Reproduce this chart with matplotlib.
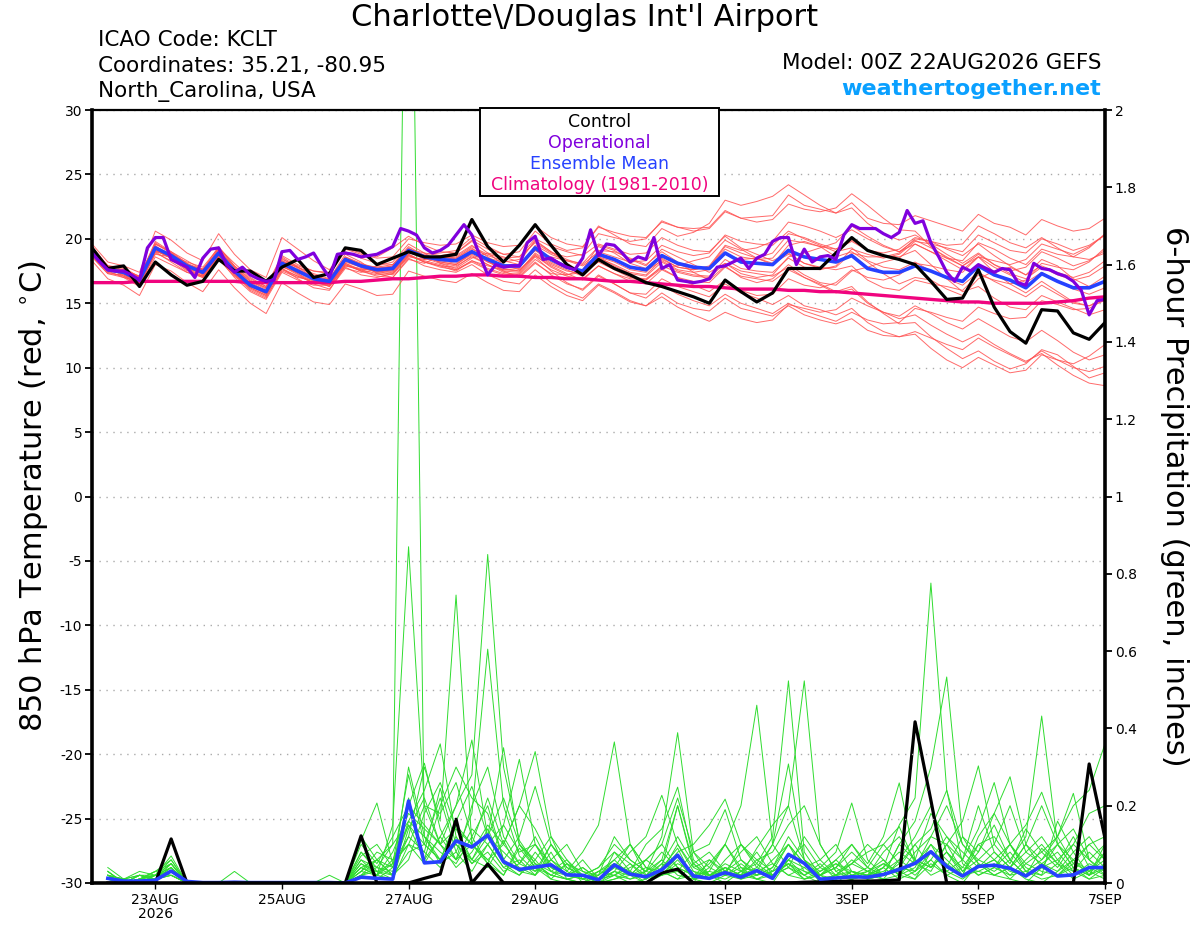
import numpy as np
import matplotlib
matplotlib.use('Agg')
import matplotlib.pyplot as plt
from matplotlib.patches import Rectangle
from matplotlib.ticker import FuncFormatter

plt.rcParams['font.family'] = ['DejaVu Sans']
plt.rcParams['axes.unicode_minus'] = False


def vals(s):
    return np.array(s.split(), dtype=float)


# ---- data ----
# GEFS output is 6-hourly from 00Z 22AUG, operational GFS 3-hourly
start = np.datetime64('2026-08-22T00')
times = start + np.arange(65) * np.timedelta64(6, 'h')
times_op = start + np.arange(129) * np.timedelta64(3, 'h')
times_pr = times[1:]

tick_dates = np.array(['2026-08-23', '2026-08-25', '2026-08-27', '2026-08-29',
                       '2026-09-01', '2026-09-03', '2026-09-05', '2026-09-07'],
                      dtype='datetime64[h]')
tick_labels = ['23AUG\n2026', '25AUG', '27AUG', '29AUG', '1SEP', '3SEP', '5SEP', '7SEP']
temp_ticks = [-30, -25, -20, -15, -10, -5, 0, 5, 10, 15, 20, 25, 30]
precip_ticks = [0, 0.2, 0.4, 0.6, 0.8, 1.0, 1.2, 1.4, 1.6, 1.8, 2.0]

control_t = vals("""
19.3 17.7 17.9 16.3 18.2 17.2 16.4 16.7 18.4 17.5
17.5 16.7 17.8 18.4 17.0 17.3 19.3 19.1 18.0 18.5
19.0 18.6 18.6 18.8 21.5 19.4 18.2 19.5 21.1 19.5
18.0 17.2 18.4 17.7 17.2 16.6 16.3 15.9 15.5 15.0
16.8 15.9 15.1 15.8 17.7 17.7 17.7 18.9 20.1 19.1
18.7 18.4 18.0 16.7 15.3 15.4 17.6 14.7 12.8 11.9
14.5 14.4 12.7 12.2 13.5""")

operational_t = vals("""
18.9 18.2 17.6 17.5 17.5 17.2 16.8 19.3 20.1 20.1
18.4 18.1 17.8 17.0 18.5 19.2 19.3 18.0 17.4 17.8
17.2 16.9 16.7 16.8 19.0 19.1 18.4 18.6 18.9 17.9
17.0 18.8 18.9 18.8 18.6 18.7 18.8 19.1 19.4 20.8
20.6 20.3 19.3 18.9 19.1 19.5 20.3 21.1 20.3 18.7
17.2 18.0 17.8 17.9 17.9 19.7 20.2 18.4 18.5 18.1
17.8 17.6 18.5 20.7 18.7 19.6 19.5 18.9 18.2 18.6
18.4 20.1 17.7 18.0 16.8 16.7 16.6 16.7 16.9 17.8
17.9 18.2 18.5 17.7 18.5 18.8 19.8 20.1 20.1 18.0
19.2 18.2 18.6 18.7 18.4 20.3 21.1 20.8 20.8 20.8
20.4 20.1 20.5 22.2 21.2 21.4 19.7 18.6 17.4 16.7
17.8 17.5 18.0 17.7 17.4 17.7 17.6 16.6 16.4 18.1
17.7 17.6 17.3 17.1 16.7 16.0 14.1 15.2 15.3""")

mean_t = vals("""
18.9 17.6 17.4 16.8 19.3 18.7 17.9 17.4 18.9 17.5
16.4 15.9 18.1 17.5 16.9 16.7 18.4 17.9 17.6 17.7
19.1 18.6 18.4 18.3 19.0 18.4 17.9 17.9 19.3 18.4
17.8 17.5 18.8 18.4 17.8 17.6 18.7 18.1 17.8 17.7
18.9 18.2 18.1 18.0 19.1 18.6 18.4 18.2 18.7 17.7
17.4 17.4 17.9 17.5 17.0 16.7 17.9 17.2 16.8 16.2
17.3 16.7 16.2 16.2 16.7""")

climatology_t = vals("""
16.6 16.6 16.6 16.7 16.7 16.7 16.7 16.7 16.7 16.7
16.6 16.6 16.6 16.6 16.6 16.6 16.7 16.7 16.8 16.9
16.9 17.0 17.1 17.1 17.2 17.2 17.1 17.1 17.0 17.0
16.9 16.9 16.8 16.7 16.7 16.6 16.5 16.4 16.3 16.3
16.2 16.1 16.1 16.1 16.0 16.0 15.9 15.9 15.8 15.7
15.6 15.5 15.4 15.3 15.2 15.1 15.1 15.0 15.0 15.0
15.0 15.1 15.2 15.4 15.5""")

members_t = [vals(s) for s in [
    """19.2 17.9 17.8 17.0 19.8 19.0 18.3 17.6 19.4 17.9 16.9 16.3 18.7 18.0 17.5 17.3 19.2 18.8 18.5 18.6
       20.0 19.7 19.5 19.6 20.3 19.7 19.4 19.5 21.0 20.1 19.6 19.4 20.9 20.5 20.2 20.1 21.3 20.9 20.8 20.9
       22.2 21.6 21.7 21.8 23.4 22.6 22.3 22.0 22.8 21.6 21.2 21.1 21.8 21.4 21.0 20.6 21.9 21.2 20.9 20.3
       21.5 21.0 20.6 20.8 21.6""",
    """18.3 16.9 16.4 15.6 18.0 17.5 16.6 15.9 17.6 16.2 15.0 14.2 16.6 15.8 15.1 14.9 16.5 16.1 15.6 15.7
       17.5 17.1 16.8 16.6 17.3 16.6 16.0 15.9 17.2 16.3 15.6 15.2 16.4 15.8 15.1 14.8 15.8 15.0 14.6 14.4
       15.4 14.6 14.3 14.0 14.8 14.1 13.7 13.4 13.8 12.9 12.5 12.4 12.8 12.3 11.8 11.4 12.3 11.6 11.0 10.4
       11.3 10.6 10.0 9.7 10.1""",
    """19.0 17.8 17.1 16.5 19.0 18.9 18.1 17.2 19.3 17.9 16.8 16.2 18.5 17.7 16.9 16.4 18.0 17.5 17.9 18.2
       19.6 18.9 18.1 17.7 18.5 18.9 18.6 18.2 19.9 19.0 18.1 17.4 18.2 17.6 17.0 16.9 17.8 17.9 18.3 18.6
       19.9 19.2 18.5 18.0 19.5 19.8 19.4 18.6 19.0 18.2 17.3 16.5 17.0 16.8 16.1 15.6 16.9 17.5 17.8 17.2
       18.4 17.9 16.9 16.3 17.1""",
    """18.7 17.4 17.6 17.1 19.5 18.4 17.5 17.7 18.6 17.2 16.0 15.4 17.6 17.1 16.6 16.9 18.8 18.2 17.3 17.0
       18.4 18.1 18.7 18.9 19.8 18.9 18.0 17.6 18.7 17.8 17.2 17.4 19.1 19.0 18.5 18.0 19.0 18.2 17.4 16.8
       17.9 17.0 16.6 16.9 18.0 17.2 16.6 16.4 17.5 17.8 18.2 18.5 19.6 19.0 18.3 17.6 18.6 17.4 16.5 15.8
       16.7 15.9 15.1 14.8 15.4""",
    """19.1 17.7 17.3 16.6 19.1 18.5 17.6 17.0 18.4 17.1 16.2 15.6 17.9 17.3 16.7 16.3 17.8 17.2 17.0 17.3
       18.7 18.3 18.0 17.6 18.2 17.6 17.2 17.3 18.6 17.5 16.6 16.0 17.1 16.5 15.8 15.7 16.9 16.3 15.9 15.5
       16.5 15.8 15.4 14.9 15.6 14.8 14.5 14.1 14.6 13.5 12.8 12.4 12.6 11.5 10.6 10.0 10.8 10.2 9.6 9.8
       11.0 10.6 10.3 10.9 11.8""",
    """19.6 18.2 17.9 17.4 20.6 19.9 18.9 18.3 20.4 18.8 17.6 17.0 20.1 19.2 18.3 17.6 19.3 18.9 18.6 19.3
       20.2 19.5 19.0 18.9 19.9 19.2 18.8 19.0 20.6 19.6 19.1 19.3 21.0 20.3 19.6 19.4 20.8 20.2 20.5 21.2
       23.0 22.6 22.9 23.3 24.2 23.4 22.6 22.0 22.4 21.2 20.4 19.9 20.3 19.6 18.8 18.1 18.9 18.0 17.3 16.9
       17.8 17.2 16.8 17.1 17.9""",
    """18.6 17.3 17.2 16.4 18.9 18.3 17.8 17.5 19.1 17.8 16.5 15.7 17.7 16.9 16.2 16.0 17.9 17.6 17.8 18.0
       19.4 18.7 18.3 18.5 19.3 18.3 17.5 17.0 18.1 17.3 17.2 17.6 19.5 19.1 18.4 17.9 19.2 18.6 18.0 17.4
       18.1 17.3 17.0 17.2 18.6 18.9 19.3 19.7 21.0 20.2 19.5 19.0 19.9 19.3 18.6 17.9 18.8 18.0 17.5 17.8
       19.0 18.5 17.9 18.3 19.1""",
    """19.0 17.5 17.0 16.7 19.4 18.8 18.0 17.3 18.7 17.4 16.6 16.0 18.3 17.8 17.2 16.8 18.2 17.8 17.4 17.5
       18.8 18.2 17.9 17.5 18.3 17.9 17.6 17.5 18.9 18.1 17.6 17.1 18.3 17.8 17.1 16.8 17.7 17.0 16.4 15.9
       16.8 16.0 15.6 15.7 16.9 16.4 16.2 16.6 17.6 17.0 16.8 17.2 18.1 17.9 17.6 17.4 18.6 18.3 18.0 18.4
       19.6 19.2 18.8 19.4 20.3""",
    """18.8 17.6 17.5 16.9 19.2 18.6 17.7 17.1 18.5 17.0 15.9 15.3 17.4 16.8 16.4 16.4 18.1 17.5 17.1 17.0
       18.5 17.9 17.6 17.4 18.0 17.2 16.7 16.5 17.6 16.6 15.9 15.4 16.5 15.9 15.2 14.8 15.5 14.7 14.1 13.6
       14.3 13.8 13.5 13.7 14.9 14.6 14.3 14.5 15.4 14.8 14.3 14.0 14.8 14.2 13.5 13.0 13.8 13.1 12.4 12.0
       12.9 12.1 11.2 10.6 11.0""",
    """19.4 17.9 17.7 16.9 19.0 18.2 17.4 17.0 18.8 17.7 16.7 16.1 18.4 17.9 17.5 17.4 19.0 18.5 18.1 18.0
       19.3 18.6 18.2 18.0 18.9 18.5 18.2 18.4 19.8 19.0 18.4 18.0 19.0 18.6 18.2 18.3 19.5 19.0 18.7 18.9
       20.3 19.8 19.6 19.5 20.6 20.0 19.5 19.0 19.3 18.3 17.8 17.6 18.2 17.5 16.9 16.4 17.4 16.7 16.1 15.5
       16.4 15.7 15.0 14.8 15.2""",
    """18.9 17.5 17.3 16.5 18.8 18.6 18.0 17.6 19.0 17.6 16.3 15.8 17.8 17.4 17.0 16.6 18.3 17.9 17.7 17.9
       19.0 18.4 18.5 18.7 19.5 18.6 17.8 17.8 19.1 18.6 18.3 17.9 18.7 18.3 17.8 17.5 18.3 17.6 17.4 17.6
       18.8 18.4 18.5 18.9 20.4 20.1 19.6 19.2 19.9 19.1 18.7 18.6 19.1 18.0 16.9 15.9 16.3 15.4 14.7 14.5
       15.6 15.1 14.6 14.1 14.5""",
    """18.7 17.6 17.4 17.0 19.6 18.9 17.8 17.2 18.9 17.3 16.1 15.5 17.5 17.0 16.8 16.9 18.6 18.0 17.5 17.2
       18.6 18.4 18.6 18.4 19.1 18.2 17.6 17.7 19.5 18.8 18.3 18.1 19.4 18.9 18.1 17.7 18.5 17.8 17.6 17.9
       19.5 19.1 19.3 19.8 21.3 21.0 20.6 20.1 20.7 20.0 19.4 19.0 19.6 19.0 18.5 18.3 19.7 19.2 18.5 18.0
       19.2 18.8 18.6 19.3 20.4""",
    """19.0 17.7 17.4 16.7 19.2 18.5 17.8 17.4 18.9 17.5 16.5 15.9 18.0 17.4 16.9 16.6 18.3 17.8 17.4 17.6
       19.0 18.5 18.1 17.9 18.6 18.0 17.5 17.4 18.7 17.9 17.3 16.8 17.9 17.3 16.7 16.5 17.6 17.0 16.7 16.6
       17.8 17.1 16.9 16.7 17.6 17.0 16.5 15.9 16.3 15.1 14.2 13.4 13.5 12.4 11.5 10.7 11.3 10.5 9.9 10.3
       11.4 11.0 10.1 9.2 9.6""",
    """18.8 17.4 17.1 16.4 19.0 18.7 18.2 17.8 19.3 18.1 17.0 16.3 18.2 17.3 16.5 16.1 17.7 17.4 17.6 17.9
       19.2 18.9 18.7 18.5 19.2 18.7 18.3 18.0 19.1 18.2 17.7 17.6 18.6 17.9 17.3 17.1 18.2 17.5 17.2 17.1
       18.4 17.7 17.5 17.4 18.5 17.8 17.6 17.9 19.2 18.8 18.5 18.8 19.8 19.6 19.3 19.0 20.3 19.7 19.1 18.9
       20.0 19.6 19.1 19.5 20.3""",
    """19.2 17.8 17.5 16.8 19.3 18.6 17.6 17.1 18.6 17.3 16.2 15.6 17.7 17.1 16.6 16.5 18.1 17.6 17.3 17.4
       18.8 18.2 17.8 17.6 18.3 17.7 17.3 17.1 18.2 17.2 16.5 16.1 17.2 16.5 15.8 15.4 16.4 15.7 15.2 14.8
       15.7 15.0 14.6 14.2 15.0 14.4 14.0 13.6 14.3 13.7 13.4 13.5 14.6 14.3 13.9 13.6 14.7 14.2 13.8 13.9
       15.2 14.9 14.5 14.6 15.3""",
    """18.9 17.6 17.6 17.1 19.6 19.0 18.1 17.6 19.2 17.8 16.7 16.2 18.6 17.8 17.0 16.7 18.4 18.0 17.8 17.8
       19.2 18.7 18.5 18.6 19.4 18.8 18.5 18.6 20.0 19.4 19.0 18.7 19.6 19.2 18.8 18.9 20.1 19.5 19.1 19.0
       20.2 19.3 18.8 18.3 18.9 18.1 17.7 17.8 18.9 18.6 18.6 18.9 20.0 19.8 19.5 19.6 21.0 20.4 19.7 19.3
       20.1 19.3 18.6 18.4 18.9""",
    """19.1 17.8 17.2 16.6 19.1 18.8 18.0 17.6 19.1 17.7 16.4 15.8 18.2 17.8 17.3 16.9 18.5 18.0 17.6 17.5
       18.9 18.8 18.9 19.1 20.1 19.4 18.8 18.6 19.7 18.9 18.6 18.8 20.4 20.1 19.8 20.0 21.4 20.9 20.6 20.8
       22.1 21.6 21.3 21.5 22.7 22.3 22.1 22.4 23.5 22.6 21.6 20.7 20.6 19.4 18.5 17.9 18.6 17.8 17.2 16.6
       17.4 16.7 16.1 15.7 16.2""",
    """18.6 17.3 17.0 16.3 18.6 18.0 17.4 17.1 18.7 17.4 16.3 15.7 17.9 17.6 17.1 16.8 18.6 18.1 17.7 17.8
       19.2 18.6 18.2 18.0 18.8 18.2 17.8 17.9 19.3 18.5 17.9 17.4 18.5 18.0 17.4 17.2 18.4 17.8 17.6 17.8
       19.4 18.9 18.5 18.1 18.8 18.1 17.8 17.6 17.9 16.8 16.2 16.0 16.8 16.5 16.3 16.0 17.2 16.8 16.5 16.8
       18.1 17.8 17.6 18.2 19.3""",
    """19.0 17.6 17.3 16.6 19.1 18.5 17.7 17.3 18.8 17.4 16.4 15.8 17.9 17.2 16.6 16.4 18.0 17.5 17.2 17.3
       18.7 18.2 17.9 17.8 18.7 18.0 17.4 17.2 18.4 17.6 17.1 16.9 17.9 17.3 16.9 16.8 17.9 17.4 17.1 17.0
       18.1 17.5 17.3 17.1 17.8 17.0 16.4 15.8 16.1 15.0 14.3 13.8 14.1 13.3 12.6 12.0 12.6 11.8 11.1 10.5
       11.1 10.2 9.4 8.8 8.6""",
    """19.3 17.9 17.6 17.0 19.7 18.9 17.9 17.3 18.6 17.2 16.3 15.9 18.3 17.6 16.8 16.3 17.9 17.7 17.5 17.6
       19.1 18.5 18.3 18.1 18.9 18.3 17.7 17.5 18.8 18.0 17.5 17.3 18.6 18.2 17.6 17.4 18.6 18.0 17.7 17.8
       19.2 18.6 18.4 18.5 19.9 19.7 19.4 19.2 19.8 19.1 18.9 19.2 20.1 19.8 19.2 18.7 19.6 18.7 17.9 17.2
       17.9 17.4 17.0 17.4 18.3""",
]]

# 6-hour precipitation (inches), valid from 06Z 22AUG
control_p = vals("""
0 0 0 0 0.114 0 0 0   0 0 0 0 0 0 0 0
0.122 0 0 0 0.012 0.023 0.165 0   0.049 0 0 0 0 0 0 0
0 0 0 0.026 0.036 0 0 0   0 0 0 0 0.002 0.003 0.004 0.005
0.005 0.006 0.008 0.417 0.214 0 0 0   0 0 0 0 0 0 0.308 0.116""")

mean_p = vals("""
0.012 0.005 0.005 0.007 0.031 0.004 0.001 0.001   0.002 0.001 0.001 0.001 0.001 0.001 0.001 0
0.015 0.012 0.01 0.212 0.052 0.055 0.109 0.093   0.124 0.055 0.035 0.041 0.047 0.021 0.02 0.008
0.047 0.023 0.016 0.034 0.072 0.018 0.012 0.027   0.015 0.032 0.012 0.074 0.051 0.01 0.013 0.016
0.015 0.022 0.035 0.051 0.081 0.043 0.018 0.043   0.046 0.038 0.018 0.045 0.018 0.021 0.04 0.04""")

members_p = [vals(s) for s in [
    """0.02 0 0.01 0.03 0.05 0 0 0  0 0 0 0 0 0 0 0  0.03 0.06 0.1 3.2 0.12 0.05 0.08 0.03
       0.1 0.04 0.02 0.06 0.01 0 0 0.03  0.05 0.02 0 0.04 0.09 0.01 0 0.02  0.04 0.01 0 0.06 0.02 0 0 0.03
       0.01 0.02 0.05 0.1 0.04 0.08 0.02 0.03  0.05 0.01 0 0.04 0.02 0.06 0.03 0.08""",
    """0.01 0 0 0.02 0.04 0 0 0  0 0 0 0 0 0 0.02 0  0.05 0.02 0.15 0.87 0.2 0.1 0.14 0.06
       0.04 0.11 0.03 0.02 0.08 0.01 0 0  0.02 0 0.01 0.05 0.03 0 0.06 0.02  0.1 0.05 0.12 0.523 0.08 0.02 0 0.01
       0.02 0.04 0.01 0.03 0.06 0.02 0 0.05  0.02 0.04 0.01 0 0.03 0.08 0.02 0.04""",
    """0.03 0 0.02 0.01 0.03 0 0 0  0 0 0 0 0 0 0 0  0.08 0.03 0.05 0.12 0.3 0.16 0.745 0.1
       0.06 0.02 0.09 0.04 0.01 0.05 0 0  0.01 0.03 0 0.02 0.07 0.01 0.02 0  0.03 0.08 0.02 0.05 0.01 0.03 0.06 0.02
       0.01 0.04 0.15 0.22 0.776 0.24 0.05 0.02  0.04 0.1 0.03 0.02 0.05 0.01 0.03 0.06""",
    """0 0 0.01 0.02 0.06 0 0 0  0 0 0 0 0 0 0 0  0.02 0.01 0.04 0.22 0.06 0.12 0.2 0.28
       0.85 0.3 0.11 0.05 0.03 0.02 0.06 0.01  0.04 0.1 0.02 0.03 0.01 0.05 0.08 0.03  0.01 0.02 0.04 0.12 0.06 0 0.02 0.05
       0.03 0.01 0.02 0.06 0.04 0.1 0.03 0.08  0.15 0.06 0.12 0.432 0.1 0.04 0.02 0.05""",
    """0.04 0.01 0 0.02 0.03 0 0 0  0 0 0 0 0 0 0 0  0.04 0.02 0.06 0.15 0.1 0.22 0.08 0.18
       0.605 0.2 0.07 0.03 0.1 0.04 0.02 0  0.08 0.03 0.01 0.04 0.2 0.05 0.01 0.03  0.02 0.09 0.15 0.2 0.523 0.1 0.03 0.01
       0.02 0.05 0.03 0.01 0.08 0.04 0.02 0.1  0.06 0.03 0.02 0.09 0.05 0.12 0.04 0.02""",
    """0.02 0 0.01 0.03 0.02 0 0 0  0 0 0 0 0 0 0 0  0.06 0.04 0.1 0.16 0.24 0.36 0.12 0.06
       0.14 0.05 0.02 0.08 0.03 0.01 0.02 0.04  0.1 0.06 0.03 0.12 0.389 0.08 0.02 0.05  0.03 0.01 0.02 0.04 0.01 0.02 0.05 0.03
       0.02 0.01 0.06 0.03 0.1 0.06 0.02 0.04  0.08 0.04 0.1 0.06 0.12 0.2 0.24 0.36""",
    """0.01 0 0.02 0.01 0.04 0 0 0  0 0 0 0 0 0 0 0  0.03 0.02 0.08 0.18 0.14 0.1 0.2 0.37
       0.12 0.08 0.04 0.02 0.06 0.03 0.01 0  0.03 0.02 0.06 0.1 0.04 0.02 0.03 0.1  0.2 0.46 0.1 0.04 0.02 0.05 0.01 0.02
       0.04 0.02 0.1 0.16 0.3 0.533 0.12 0.05  0.03 0.06 0.02 0.05 0.08 0.03 0.01 0.04""",
    """0.03 0 0.01 0.02 0.05 0 0 0  0 0 0 0 0 0 0 0  0.1 0.05 0.12 0.2 0.31 0.14 0.06 0.1
       0.05 0.02 0.1 0.06 0.12 0.03 0.08 0.15  0.365 0.1 0.04 0.02 0.06 0.01 0.03 0.02  0.05 0.02 0.04 0.1 0.03 0.01 0.02 0.06
       0.03 0.05 0.02 0.08 0.12 0.1 0.16 0.303  0.1 0.05 0.14 0.08 0.04 0.1 0.06 0.03""",
    """0.02 0.01 0.03 0.02 0.07 0 0 0  0 0 0 0 0 0 0 0  0.11 0.207 0.05 0.1 0.08 0.04 0.12 0.05
       0.08 0.03 0.05 0.12 0.04 0.02 0.01 0.03  0.06 0.02 0.03 0.08 0.04 0.02 0.05 0.1  0.04 0.03 0.1 0.308 0.06 0.02 0.04 0.1
       0.05 0.12 0.259 0.06 0.04 0.08 0.03 0.06  0.04 0.02 0.06 0.1 0.05 0.03 0.08 0.04""",
    """0 0 0.02 0.01 0.03 0 0 0  0 0 0 0 0 0 0 0  0.02 0.04 0.03 0.12 0.08 0.245 0.1 0.06
       0.12 0.35 0.1 0.04 0.02 0.05 0.03 0.01  0.02 0.05 0.01 0.03 0.1 0.04 0.02 0.01  0.03 0.05 0.02 0.06 0.1 0.04 0.08 0.207
       0.06 0.02 0.04 0.03 0.08 0.05 0.02 0.12  0.18 0.275 0.1 0.04 0.06 0.02 0.05 0.03""",
    """0.01 0 0 0.02 0.04 0 0 0  0 0 0 0 0 0 0 0  0.04 0.02 0.01 0.1 0.05 0.12 0.06 0.14
       0.1 0.15 0.32 0.1 0.05 0.02 0.04 0.01  0.03 0.08 0.12 0.227 0.1 0.03 0.02 0.04  0.02 0.06 0.03 0.1 0.05 0.02 0.01 0.03
       0.02 0.04 0.08 0.05 0.1 0.03 0.06 0.14  0.26 0.1 0.05 0.08 0.12 0.232 0.06 0.02""",
    """0.02 0 0.01 0.01 0.02 0 0 0  0 0 0 0 0 0 0 0  0.05 0.03 0.02 0.08 0.1 0.06 0.15 0.1
       0.06 0.1 0.2 0.34 0.12 0.06 0.02 0.01  0.04 0.02 0.06 0.03 0.08 0.1 0.15 0.217  0.1 0.04 0.02 0.05 0.03 0.02 0.04 0.08
       0.04 0.1 0.05 0.02 0.06 0.12 0.08 0.04  0.06 0.1 0.15 0.235 0.12 0.05 0.1 0.06""",
    """0.01 0.01 0.02 0.02 0.03 0 0 0  0.03 0 0 0 0 0 0 0  0.02 0.06 0.04 0.16 0.12 0.08 0.05 0.12
       0.2 0.06 0.03 0.05 0.02 0.01 0 0.02  0.05 0.03 0.1 0.14 0.248 0.06 0.02 0.04  0.02 0.04 0.1 0.2 0.06 0.03 0.05 0.02
       0.03 0.02 0.04 0.1 0.14 0.24 0.1 0.05  0.02 0.04 0.08 0.05 0.03 0.06 0.1 0.12""",
    """0 0 0.01 0.02 0.05 0 0 0  0 0 0 0 0 0 0 0  0.08 0.04 0.02 0.2 0.15 0.1 0.04 0.08
       0.15 0.1 0.05 0.03 0.06 0.02 0.04 0.01  0.02 0.04 0.06 0.1 0.22 0.08 0.1 0.19  0.06 0.02 0.03 0.05 0.02 0.04 0.02 0.05
       0.08 0.1 0.146 0.05 0.03 0.1 0.06 0.02  0.04 0.08 0.03 0.06 0.1 0.04 0.02 0.08""",
    """0.03 0 0.02 0.01 0.02 0 0 0  0 0 0 0 0 0 0 0  0.06 0.02 0.05 0.28 0.1 0.06 0.1 0.05
       0.1 0.04 0.06 0.02 0.1 0.05 0.02 0.04  0.08 0.05 0.02 0.06 0.2 0.04 0.06 0.03  0.08 0.12 0.05 0.02 0.04 0.06 0.02 0.01
       0.02 0.03 0.06 0.12 0.2 0.08 0.04 0.1  0.12 0.06 0.02 0.04 0.1 0.14 0.06 0.1""",
    """0.02 0.01 0 0.01 0.04 0 0 0  0 0 0 0 0 0 0 0  0.03 0.08 0.06 0.1 0.2 0.18 0.26 0.12
       0.05 0.15 0.08 0.1 0.03 0.06 0.01 0.02  0.12 0.06 0.03 0.02 0.05 0.03 0.01 0.06  0.1 0.06 0.08 0.15 0.2 0.1 0.03 0.05
       0.1 0.06 0.02 0.04 0.12 0.2 0.1 0.06  0.1 0.2 0.08 0.12 0.06 0.1 0.18 0.2""",
    """0.01 0 0.01 0.03 0.06 0 0 0  0 0 0 0 0 0 0 0  0.07 0.1 0.04 0.15 0.06 0.2 0.3 0.22
       0.18 0.06 0.12 0.25 0.1 0.04 0.02 0.01  0.03 0.01 0.02 0.05 0.12 0.05 0.02 0.03  0.06 0.03 0.02 0.04 0.12 0.06 0.1 0.03
       0.02 0.08 0.12 0.06 0.18 0.12 0.06 0.2  0.08 0.04 0.1 0.2 0.1 0.06 0.02 0.1""",
    """0.02 0 0.01 0.02 0.03 0 0 0  0 0 0 0 0 0 0 0  0.04 0.06 0.02 0.06 0.18 0.26 0.14 0.1
       0.22 0.1 0.2 0.14 0.06 0.1 0.03 0.02  0.06 0.1 0.04 0.02 0.03 0.08 0.04 0.1  0.03 0.02 0.06 0.1 0.05 0.02 0.06 0.1
       0.04 0.02 0.1 0.06 0.02 0.04 0.12 0.08  0.18 0.1 0.04 0.02 0.16 0.08 0.12 0.06""",
    """0 0 0.01 0.01 0.02 0 0 0  0 0 0 0 0 0 0 0  0.02 0.03 0.01 0.14 0.22 0.1 0.06 0.2
       0.3 0.12 0.05 0.1 0.04 0.02 0.01 0.03  0.02 0.01 0.03 0.06 0.02 0.01 0.04 0.02  0.01 0.03 0.05 0.02 0.01 0.02 0.04 0.01
       0.03 0.06 0.02 0.01 0.05 0.02 0.04 0.03  0.02 0.01 0.05 0.03 0.02 0.04 0.01 0.02""",
    """0.02 0.01 0.02 0.01 0.05 0 0 0  0 0 0 0 0 0 0 0  0.12 0.06 0.02 0.3 0.12 0.06 0.16 0.25
       0.12 0.22 0.1 0.05 0.02 0.01 0.02 0  0.01 0.02 0.04 0.03 0.01 0.02 0.01 0.04  0.02 0.01 0.03 0.06 0.04 0.01 0.02 0.03
       0.01 0.02 0.03 0.05 0.08 0.03 0.01 0.04  0.06 0.02 0.03 0.01 0.02 0.05 0.03 0.01""",
]]

# ---- figure ----
fig = plt.figure(figsize=(12, 9.27), dpi=100)
ax = fig.add_axes([92 / 1200, 1 - 883 / 927, 1013 / 1200, 773 / 927])
axp = ax.twinx()
ax.set_zorder(axp.get_zorder() + 1)
ax.patch.set_visible(False)

# precipitation (right axis)
for m in members_p:
    axp.plot(times_pr, m, color='#2fdc2f', lw=0.7)
axp.plot(times_pr, control_p, color='black', lw=2.3)
axp.plot(times_pr, mean_p, color='#2641ff', lw=2.6)

# temperature (left axis)
for m in members_t:
    ax.plot(times, m, color='#ff5050', lw=0.7, alpha=0.85)
ax.plot(times, climatology_t, color='#f0047f', lw=2.4)
ax.plot(times, mean_t, color='#2641ff', lw=2.6)
ax.plot(times, control_t, color='black', lw=2.3)
ax.plot(times_op, operational_t, color='#8000dd', lw=2.3)

ax.set_xlim(times[0], times[-1])
ax.set_ylim(-30, 30)
axp.set_ylim(0, 2)

ax.set_yticks(temp_ticks)
axp.set_yticks(precip_ticks)
axp.yaxis.set_major_formatter(FuncFormatter(lambda v, _: f'{v:g}'))
ax.set_xticks(tick_dates)
ax.set_xticklabels(tick_labels, linespacing=1.0)

ax.yaxis.grid(True, color='#aaaaaa', linestyle=(0, (1, 4)), linewidth=1)
ax.tick_params(axis='y', direction='out', length=5, width=1.3, labelsize=10, pad=2)
axp.tick_params(axis='y', direction='out', length=5, width=1.3, labelsize=10, pad=2)
ax.tick_params(axis='x', direction='out', length=4, width=1, labelsize=10, pad=3)

for side, w in [('left', 2.6), ('right', 2.6), ('bottom', 2.6), ('top', 1.6)]:
    ax.spines[side].set_linewidth(w)
for s in axp.spines.values():
    s.set_visible(False)

ax.set_ylabel('850 hPa Temperature (red, $^{\\circ}$C)', fontsize=22, va='center')
ax.yaxis.set_label_coords(-0.058, 0.5)
axp.set_ylabel('6-hour Precipitation (green, inches)', fontsize=22, rotation=-90,
               va='center')
axp.yaxis.set_label_coords(1.069, 0.5)

# legend box
ax.add_patch(Rectangle((0.383, 0.889), 0.236, 0.114, transform=ax.transAxes,
                       facecolor='white', edgecolor='black', lw=1.4,
                       zorder=20, clip_on=False))
legend_items = [('Control', 'black'), ('Operational', '#8000dd'),
                ('Ensemble Mean', '#2641ff'), ('Climatology (1981-2010)', '#f0047f')]
for i, (txt, col) in enumerate(legend_items):
    ax.text(0.501, 0.985 - i * 0.0275, txt, color=col, fontsize=12.5,
            ha='center', va='center', transform=ax.transAxes, zorder=21)

# header
fig.text(585 / 1200, 1 - 18 / 927, "Charlotte\\/Douglas Int'l Airport",
         ha='center', va='center', fontsize=22)
fig.text(98 / 1200, 1 - 40 / 927, 'ICAO Code: KCLT', fontsize=15.5, va='center')
fig.text(98 / 1200, 1 - 66 / 927, 'Coordinates: 35.21, -80.95', fontsize=15.5, va='center')
fig.text(98 / 1200, 1 - 92 / 927, 'North_Carolina, USA', fontsize=15.5, va='center')
fig.text(1101 / 1200, 1 - 63 / 927, 'Model: 00Z 22AUG2026 GEFS', fontsize=15.5,
         ha='right', va='center')
fig.text(1101 / 1200, 1 - 89 / 927, 'weathertogether.net', fontsize=16,
         weight='bold', color='#0aa0ff', ha='right', va='center')

fig.savefig('out.png', dpi=100)
